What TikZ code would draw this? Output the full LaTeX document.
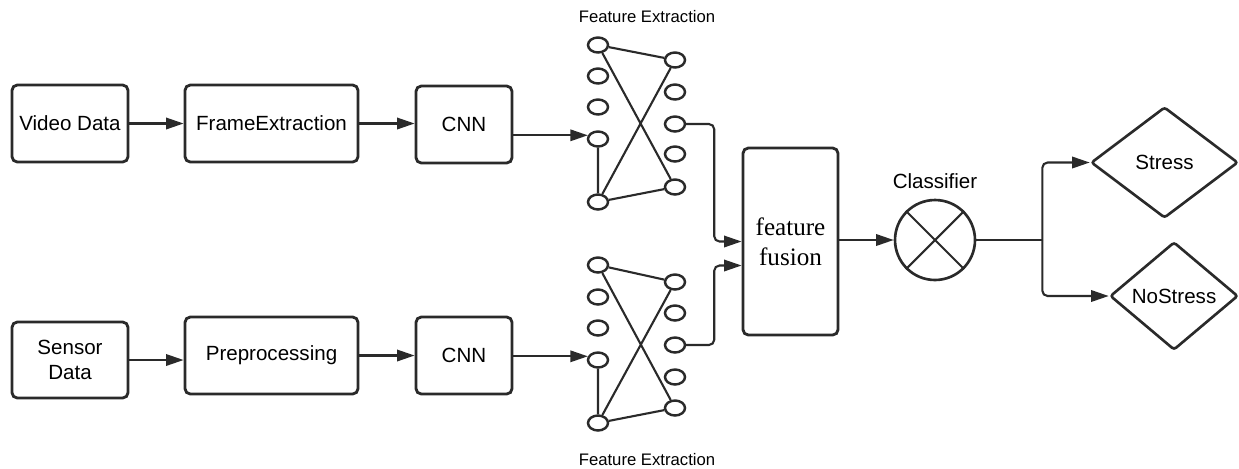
\documentclass[tikz,border=0pt]{standalone}
\usepackage{fontspec}
\setmainfont{Liberation Sans}
\newfontfamily\serifface{Liberation Serif}
\usepackage{tikz}
\usetikzlibrary{positioning,shapes.geometric,arrows.meta}
\definecolor{edgegray}{HTML}{2A2A2A}
\tikzset{
  blk/.style={draw=edgegray, line width=1.6pt, rounded corners=3pt, align=center, inner sep=2pt, font=\fontsize{11.7}{14}\selectfont},
  neuron/.style={draw=edgegray, line width=1.4pt, ellipse, fill=white, minimum width=0.4cm, minimum height=0.3cm, inner sep=0pt},
  dec/.style={draw=edgegray, line width=1.5pt, diamond, rounded corners=1.5pt, inner sep=0pt, font=\fontsize{11.7}{14}\selectfont},
  flow/.style={-{Triangle[length=10pt,width=6.5pt]}, draw=edgegray, line width=1.2pt},
  wire/.style={draw=edgegray, line width=1.2pt}
}

\begin{document}
\begin{tikzpicture}[x=0.02cm, y=-0.02cm]
  \useasboundingbox (0,0) rectangle (1239,468);

  % video branch
  \node[blk, minimum width=2.32cm, minimum height=1.54cm] (video) at (70,123.5) {Video Data};
  \node[blk, minimum width=3.46cm, minimum height=1.54cm] (frame) at (271.5,123.5) {FrameExtraction};
  \node[blk, minimum width=1.92cm, minimum height=1.54cm] (cnnA) at (464,124.5) {CNN};

  % sensor branch
  \node[blk, minimum width=2.32cm, minimum height=1.52cm] (sensor) at (70,360) {Sensor\\Data};
  \node[blk, minimum width=3.46cm, minimum height=1.54cm] (prep) at (271.5,355.5) {Preprocessing};
  \node[blk, minimum width=1.92cm, minimum height=1.54cm] (cnnB) at (464,355.5) {CNN};

  \draw[flow] (video) -- (frame);
  \draw[flow] (frame) -- (cnnA.west |- frame);
  \draw[flow] (sensor.east) -- (sensor.east -| prep.west);
  \draw[flow] (prep) -- (cnnB);

  % feature extraction nets
  \foreach \i/\y in {1/45,2/76,3/107,4/139,5/202}
    \node[neuron] (la\i) at (598,\y) {};
  \foreach \i/\y in {1/60,2/92,3/124,4/154,5/187}
    \node[neuron] (ra\i) at (675,\y) {};
  \foreach \i/\y in {1/265,2/297,3/328,4/360,5/423}
    \node[neuron] (lb\i) at (598,\y) {};
  \foreach \i/\y in {1/282,2/313,3/345,4/377,5/408}
    \node[neuron] (rb\i) at (675,\y) {};

  \draw[wire] (la1) -- (ra1) (la1) -- (ra5) (la5) -- (ra1) (la5) -- (ra5) (la4) -- (la5);
  \draw[wire] (lb1) -- (rb1) (lb1) -- (rb5) (lb5) -- (rb1) (lb5) -- (rb5) (lb4) -- (lb5);

  \node[font=\fontsize{9.5}{11}\selectfont] (fxtop) at (647,17) {Feature Extraction};
  \node[font=\fontsize{9.5}{11}\selectfont] (fxbot) at (647,460) {Feature Extraction};

  \draw[flow] (cnnA.east |- la4.160) -- (la4.160);
  \draw[flow] (cnnB.east |- lb4.160) -- (lb4.160);

  % fusion and classifier
  \node[blk, minimum width=1.9cm, minimum height=3.74cm, font=\serifface\fontsize{14.3}{17}\selectfont] (fusion) at (790.5,241.5) {feature\\fusion};

  \draw[flow, rounded corners=3pt] (ra3.east) -- ++(28,0) |- (fusion.west);
  \draw[flow, rounded corners=3pt] (rb3.east) -- ++(28,0) |- ([yshift=-0.48cm]fusion.west);

  \node[draw=edgegray, line width=1.5pt, circle, minimum size=1.6cm, inner sep=0pt] (cls) at (935,240) {};
  \draw[wire] (cls.45) -- (cls.225) (cls.135) -- (cls.315);
  \node[font=\fontsize{11.7}{14}\selectfont] (clslabel) at (935,181) {Classifier};

  \draw[flow] (fusion.east |- cls.west) -- (cls.west);

  % outputs
  \node[dec, minimum width=2.94cm, minimum height=2.22cm] (stress) at (1164.5,162.5) {Stress};
  \node[dec, minimum width=2.56cm, minimum height=2.16cm] (nostress) at (1174,296) {NoStress};

  \draw[wire] (cls.east) -- ++(66,0) coordinate (split);
  \draw[flow, rounded corners=3pt] (split) |- (stress.west);
  \draw[flow, rounded corners=3pt] (split) |- (nostress.west);
\end{tikzpicture}
\end{document}
